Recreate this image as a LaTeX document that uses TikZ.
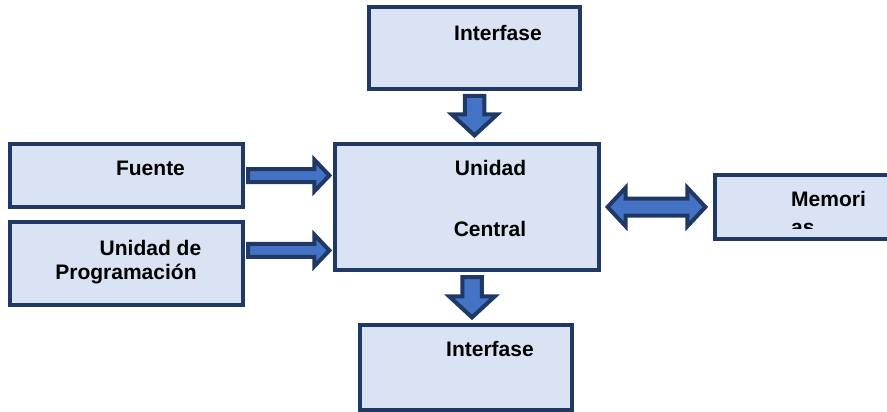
\documentclass[tikz,border=0pt]{standalone}
\usepackage{fontspec}
\setmainfont{Liberation Sans}
\usepackage{tikz}
\usetikzlibrary{calc}
\definecolor{boxnavy}{HTML}{1F3864}
\definecolor{boxfill}{HTML}{DAE3F3}
\definecolor{arrowblue}{HTML}{4472C4}

\tikzset{
  blk/.style={draw=boxnavy,line width=4pt,fill=boxfill,inner sep=0pt},
  lbl/.style={font=\fontsize{21}{25}\selectfont\bfseries,inner sep=0pt,anchor=base},
  arr shaft/.store in=\arrshaft, arr head/.store in=\arrhead,
  arr len/.store in=\arrlen, arr gap/.store in=\arrgap, arr tipgap/.store in=\arrtipgap,
  arr shaft=6.5pt, arr head=15.75pt, arr len=15pt, arr gap=3pt, arr tipgap=3.6pt,
  % fat outlined arrow from start to target
  blockarrow/.style={draw=boxnavy,line width=4pt,fill=arrowblue,
    to path={
      ($(\tikztostart)!\arrgap!(\tikztotarget)$) coordinate (ba-s)
      ($(\tikztotarget)!\arrtipgap!(\tikztostart)$) coordinate (ba-t)
      ($(ba-t)!\arrlen!(ba-s)$) coordinate (ba-n)
      ($(ba-s)!\arrshaft!90:(ba-n)$) -- ($(ba-n)!\arrshaft!-90:(ba-s)$)
      -- ($(ba-n)!\arrhead!-90:(ba-s)$) -- (ba-t)
      -- ($(ba-n)!\arrhead!90:(ba-s)$) -- ($(ba-n)!\arrshaft!90:(ba-s)$)
      -- ($(ba-s)!\arrshaft!-90:(ba-n)$) -- cycle}},
  % same, with a head at both ends
  dblarrow/.style={draw=boxnavy,line width=4pt,fill=arrowblue,
    to path={
      ($(\tikztostart)!\arrgap!(\tikztotarget)$) coordinate (ba-s)
      ($(\tikztotarget)!\arrtipgap!(\tikztostart)$) coordinate (ba-t)
      ($(ba-t)!\arrlen!(ba-s)$) coordinate (ba-n)
      ($(ba-s)!\arrlen!(ba-t)$) coordinate (ba-m)
      (ba-s) -- ($(ba-m)!\arrhead!90:(ba-t)$) -- ($(ba-m)!\arrshaft!90:(ba-t)$)
      -- ($(ba-n)!\arrshaft!-90:(ba-s)$) -- ($(ba-n)!\arrhead!-90:(ba-s)$)
      -- (ba-t) -- ($(ba-n)!\arrhead!90:(ba-s)$) -- ($(ba-n)!\arrshaft!90:(ba-s)$)
      -- ($(ba-m)!\arrshaft!-90:(ba-t)$) -- ($(ba-m)!\arrhead!-90:(ba-t)$) -- cycle}},
}

\begin{document}
\begin{tikzpicture}[x=1pt,y=-1pt]
  \useasboundingbox (0,0) rectangle (887,412);
  \clip (0,0) rectangle (887,412);

  % blocks
  \node[blk,minimum width=211pt,minimum height=82pt] (top) at (474.5,48) {};
  \node[blk,minimum width=233pt,minimum height=63pt] (fte) at (126.5,175.5) {};
  \node[blk,minimum width=233pt,minimum height=83pt] (prog) at (126.5,263.5) {};
  \node[blk,minimum width=264pt,minimum height=126pt] (cpu) at (467,207) {};
  \node[blk,minimum width=213pt,minimum height=64pt] (mem) at (821.5,207) {};
  \node[blk,minimum width=212pt,minimum height=85pt] (bot) at (466,367.5) {};

  % arrows
  \draw[blockarrow,arr shaft=9.75pt,arr head=22.75pt,arr len=21pt,arr gap=5pt,arr tipgap=6.6pt]
    (top.south) to (top.south |- cpu.north);
  \draw[blockarrow] (fte.east) to (fte.east -| cpu.west);
  \coordinate (prog-out) at ($(prog.north east)!0.35!(prog.south east)$);
  \draw[blockarrow] (prog-out) to (prog-out -| cpu.west);
  \draw[dblarrow,arr shaft=8.5pt,arr head=19.25pt,arr len=18pt,arr gap=6.6pt,arr tipgap=7.6pt]
    (cpu.east) to (mem.west);
  \coordinate (cpu-out) at ($(cpu.south)+(5,0)$);
  \draw[blockarrow,arr shaft=9.75pt,arr head=22.75pt,arr len=21pt,arr gap=5pt,arr tipgap=5.6pt]
    (cpu-out) to (cpu-out |- bot.north);

  % texts
  \node[lbl] (top-t) at (498,41) {Interfase};
  \node[lbl] (fte-t) at (150.5,175.5) {Fuente};
  \node[lbl] (prog-t1) at (150.5,255) {Unidad de};
  \node[lbl] (prog-t2) at (126,279) {Programación};
  \node[lbl] (cpu-t1) at (490.5,175.5) {Unidad};
  \node[lbl] (cpu-t2) at (490,236.5) {Central};
  \node[lbl,anchor=base west] (mem-t1) at (791,206) {Memori};
  \begin{scope}
    \clip (760,180) rectangle (887,228.5);
    \node[lbl,anchor=base west] (mem-t2) at (791,234) {as};
  \end{scope}
  \node[lbl] (bot-t) at (490,356) {Interfase};
\end{tikzpicture}
\end{document}
